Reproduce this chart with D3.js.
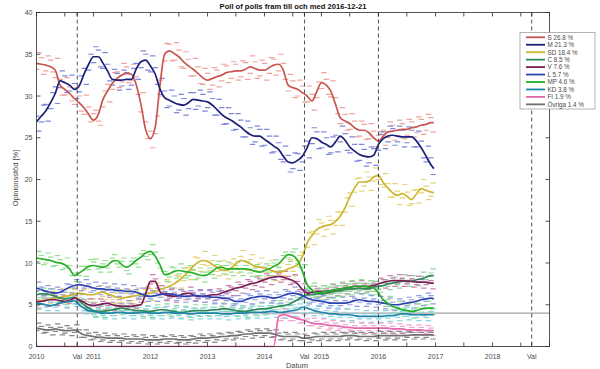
<!DOCTYPE html>
<html><head><meta charset="utf-8">
<script src="https://cdn.jsdelivr.net/npm/d3@7"></script>
<style>body{margin:0;background:#fff}svg{display:block;font-family:"Liberation Sans",Arial,Helvetica,sans-serif}</style>
</head><body><svg id="c" width="600" height="369"></svg>
<script>
const titleText = "Poll of polls fram till och med 2016-12-21";
const parties = ["S","M","SD","C","V","L","MP","KD","FI","Övriga"];
const latest = [26.8,21.3,18.4,8.5,7.6,5.7,4.6,3.8,1.9,1.4];
const lineColors = ["#c8564f","#1b1f78","#cdb52c","#2f8a57","#7a1d55","#2c44b0","#25b025","#1d86ad","#e466ad","#6f6f6f"];
const pollColors = ["#eea49c","#7d87db","#e6d27a","#8fd3a3","#c77fae","#8e9ae4","#8fe08f","#86d6e6","#f5a6d0","#868686"];
const yTicks = [0,5,10,15,20,25,30,35,40];
const yearLabels = [2010,2011,2012,2013,2014,2015,2016,2017,2018];
const valDates = ["2010-09-19","2014-09-14","2018-09-09"];
const dashedDates = ["2010-09-19","2014-09-14","2016-01-01","2018-09-09"];
const threshold = 4;

// monthly trend (1st of each month, Jan 2010 .. Dec 2016)
const trendS = [33.9,33.8,33.7,33.5,33.1,31.3,30.8,30.3,29.7,29.2,28.6,27.8,
27.1,27.8,29.5,30.6,31.5,32.1,32.5,32.7,32.6,31.4,29.0,26.0,
24.9,26.3,31.1,35.0,35.4,35.1,34.7,34.1,33.6,33.2,32.7,32.2,
31.9,32.1,32.3,32.5,32.8,32.9,33.0,33.0,33.2,33.5,33.3,33.1,
33.1,33.4,33.7,33.8,33.1,31.3,31.0,30.8,30.4,30.0,29.4,30.5,
31.6,31.3,30.6,29.0,27.4,27.0,26.7,26.2,25.9,25.9,25.6,25.0,
24.6,25.2,25.7,25.8,25.9,26.0,26.0,26.2,26.3,26.5,26.6,26.8];
const trendM = [26.9,27.6,28.2,29.2,30.3,31.8,31.6,31.3,30.8,31.2,32.6,33.8,
34.7,34.7,34.0,33.0,32.0,31.9,31.9,32.0,32.0,33.2,34.1,34.3,
33.6,32.6,30.9,29.8,29.5,29.2,29.0,28.9,29.2,29.6,29.5,29.4,
29.3,28.9,28.4,27.8,27.4,27.1,26.7,26.3,25.8,25.4,25.2,25.2,
24.8,24.4,24.0,23.6,22.8,22.1,22.0,22.3,22.8,23.8,25.0,24.9,
24.5,24.2,23.9,24.5,25.2,24.7,23.9,23.4,23.0,22.8,22.7,22.9,
24.2,24.9,25.2,25.3,25.2,25.1,25.1,25.1,24.6,23.8,22.8,21.8];
const trendSD = [5.4,5.5,5.6,5.7,5.8,5.9,6.0,6.1,6.3,6.4,6.3,6.2,
6.2,6.4,6.5,6.3,6.1,5.9,5.8,5.9,6.0,6.1,6.2,6.3,
6.4,6.6,6.8,7.0,7.2,7.5,7.9,8.4,9.0,9.6,10.1,10.3,
10.2,9.8,9.5,9.2,9.1,9.4,9.9,10.3,10.2,9.9,9.6,9.5,
9.4,9.2,9.0,8.9,9.0,9.3,9.5,9.8,10.8,12.4,13.3,14.0,
14.3,14.5,14.6,15.0,15.6,16.6,17.9,19.0,19.7,19.7,19.8,20.3,
20.5,19.6,19.0,18.4,18.1,18.3,18.0,17.6,18.3,18.9,18.7,18.5];
const trendC = [6.2,6.3,6.3,6.2,6.0,5.8,5.7,5.8,5.9,5.5,5.0,4.6,
4.3,4.2,4.2,4.3,4.4,4.5,4.6,4.5,4.4,4.3,4.3,4.2,
4.2,4.3,4.4,4.4,4.3,4.2,4.1,4.1,4.2,4.3,4.3,4.3,
4.3,4.4,4.4,4.5,4.5,4.4,4.3,4.2,4.2,4.3,4.4,4.5,
4.5,4.6,4.7,4.8,4.9,5.0,5.3,5.6,6.0,6.2,6.2,6.3,
6.3,6.4,6.5,6.6,6.7,6.8,6.9,6.9,7.0,6.9,6.9,7.1,
7.2,7.3,7.5,7.6,7.7,7.8,7.9,7.8,8.0,8.1,8.3,8.5];
const trendV = [5.3,5.4,5.5,5.6,5.6,5.5,5.4,5.5,5.8,5.6,5.3,5.0,
4.9,5.0,5.1,5.2,5.0,4.9,4.8,4.8,4.8,4.9,5.0,6.3,
7.8,7.8,6.6,6.2,6.1,6.0,6.1,6.3,6.4,6.2,6.0,6.0,
6.1,6.2,6.2,6.4,6.6,6.8,7.0,7.1,7.3,7.5,7.6,7.8,
8.0,8.2,8.3,8.4,8.3,8.1,7.9,7.5,6.8,6.4,6.5,6.6,
6.6,6.6,6.7,6.8,6.9,7.0,7.1,7.2,7.2,7.2,7.2,7.3,
7.5,7.7,7.8,7.9,7.9,7.9,7.8,7.8,7.7,7.7,7.7,7.6];
const trendL = [7.0,6.8,6.6,6.5,6.4,6.5,6.8,7.1,7.3,7.4,7.3,7.2,
7.0,6.9,6.9,6.8,6.8,6.7,6.7,6.6,6.6,6.5,6.3,6.1,
6.0,6.1,6.2,6.3,6.3,6.2,6.1,6.0,6.0,6.1,6.1,6.0,
6.0,5.9,5.9,5.8,5.8,5.6,5.4,5.4,5.6,5.8,5.9,6.0,
6.0,5.9,5.8,5.9,6.1,6.3,6.4,6.3,6.1,5.8,5.6,5.5,
5.4,5.3,5.2,5.2,5.2,5.2,5.3,5.5,5.6,5.5,5.4,5.4,
5.3,5.2,5.1,5.0,5.0,5.1,5.2,5.3,5.4,5.6,5.7,5.8];
const trendMP = [10.6,10.5,10.4,10.3,10.1,10.0,9.8,9.3,8.5,8.8,9.2,9.6,
9.7,9.6,9.5,9.7,10.2,10.3,9.8,9.5,9.8,10.3,10.7,11.2,
11.4,10.8,9.8,8.6,8.7,9.0,9.1,9.0,8.9,8.8,8.6,8.5,
8.6,9.0,9.4,9.5,9.3,9.3,9.3,9.3,9.3,9.2,9.0,8.9,
9.1,9.3,9.6,9.9,10.5,11.0,10.9,10.3,9.0,7.4,6.8,6.4,
6.5,6.6,6.7,6.8,6.9,7.0,7.1,7.2,7.2,7.2,7.1,7.0,
6.4,5.6,5.2,4.8,4.6,4.4,4.3,4.2,4.3,4.5,4.6,4.6];
const trendKD = [5.2,5.1,5.0,4.9,5.0,5.2,5.3,5.4,5.5,5.0,4.6,4.3,
4.2,4.1,4.0,4.0,4.0,4.1,4.1,4.0,4.0,4.0,4.1,4.1,
4.0,4.0,4.0,4.1,4.1,4.0,4.0,4.0,3.9,3.9,4.0,4.0,
4.0,4.0,4.0,3.9,3.9,3.9,4.0,4.0,4.0,4.1,4.1,4.1,
4.1,4.2,4.2,4.1,4.1,4.2,4.3,4.4,4.7,4.6,4.4,4.2,
4.1,4.0,3.9,3.9,3.8,3.8,3.8,3.7,3.6,3.6,3.6,3.6,
3.6,3.6,3.7,3.7,3.8,3.9,3.9,3.8,3.8,3.8,3.8,3.8];
const trendFI = [0,0,0,0,0,0,0,0,0,0,0,0,
0,0,0,0,0,0,0,0,0,0,0,0,
0,0,0,0,0,0,0,0,0,0,0,0,
0,0,0,0,0,0,0,0,0,0,0,0,
0,0,0,3.6,3.8,3.7,3.5,3.3,3.2,3.0,2.8,2.7,
2.7,2.6,2.5,2.5,2.4,2.3,2.3,2.2,2.2,2.2,2.2,2.2,
2.2,2.2,2.2,2.1,2.1,2.1,2.0,2.0,2.0,2.0,1.9,1.9];
const trendOv = [2.2,2.1,2.0,2.0,2.1,2.0,1.9,1.9,2.0,1.7,1.4,1.3,
1.2,1.1,1.1,1.0,1.0,1.0,1.0,0.9,0.9,0.9,0.9,0.8,
0.8,0.8,0.8,0.9,0.9,0.9,0.8,0.8,0.8,0.9,1.0,1.0,
1.0,1.1,1.1,1.2,1.2,1.3,1.3,1.4,1.5,1.5,1.6,1.6,
1.6,1.6,1.5,1.3,1.2,1.2,1.2,1.2,1.0,1.0,1.1,1.2,
1.2,1.2,1.2,1.2,1.2,1.3,1.3,1.3,1.2,1.2,1.2,1.2,
1.3,1.3,1.3,1.3,1.3,1.3,1.3,1.4,1.4,1.4,1.4,1.4];

// individual polls, set A (mid-month, Jan 2010 .. Dec 2016)
const pollsS = [35.2,32.6,34.8,32.9,34.5,30.1,32.2,29.4,31.0,28.2,30.1,26.9,
28.3,26.5,30.6,29.3,32.8,31.0,33.9,31.6,33.8,30.2,30.4,24.9,
23.8,27.6,30.0,36.3,34.2,36.4,33.5,35.3,32.4,34.5,31.5,33.3,
30.8,33.4,31.1,33.8,31.6,34.1,31.9,34.2,32.0,34.8,32.1,34.3,
31.9,34.6,32.5,35.0,32.0,32.6,29.8,31.9,29.3,31.2,28.3,31.7,
32.8,30.2,31.8,27.9,28.6,25.9,27.9,25.1,27.0,24.8,26.7,23.9,
25.7,24.1,26.9,24.7,27.1,24.9,27.2,25.1,27.5,25.4,27.8,25.7];
const pollsM = [25.8,28.9,27.0,30.4,29.1,33.0,30.4,32.5,29.7,32.4,31.4,35.0,
35.9,33.5,35.2,31.8,33.2,30.7,33.1,30.8,33.3,32.0,35.4,33.1,
34.8,31.4,32.1,28.6,30.7,28.0,30.2,27.7,30.4,28.4,30.7,28.2,
30.5,27.7,29.6,26.6,28.6,25.9,27.9,25.1,27.0,24.2,26.4,24.0,
26.0,23.2,25.2,22.4,24.0,20.9,23.2,21.1,24.0,22.6,26.2,23.7,
25.7,23.0,25.1,23.3,26.4,23.5,25.1,22.2,24.2,21.6,23.9,21.7,
25.4,23.7,26.4,24.1,26.4,23.9,26.3,23.9,25.8,22.6,24.0,20.6];
const pollsSD = [4.4,6.3,4.8,6.6,5.0,6.9,5.1,7.0,5.5,7.4,5.4,7.0,
5.3,7.3,5.6,7.2,5.2,6.8,4.9,6.8,5.1,7.0,5.3,7.2,
5.5,7.6,5.9,8.0,6.3,8.5,7.0,9.4,8.0,10.7,9.0,11.4,
9.1,10.9,8.5,10.3,8.1,10.5,8.8,11.5,9.1,11.0,8.5,10.6,
8.3,10.3,7.9,10.0,8.0,10.4,8.5,10.9,9.8,13.6,12.2,15.2,
13.2,15.6,13.5,16.1,14.5,17.8,16.8,20.1,18.6,20.9,18.7,21.4,
19.4,20.7,17.9,19.5,17.0,19.4,16.9,18.7,17.2,20.0,17.6,19.6];
const pollsC = [5.5,7.0,5.6,6.9,5.3,6.5,5.0,6.5,5.2,6.2,4.3,5.3,
3.6,4.9,3.5,5.0,3.7,5.2,3.9,5.2,3.7,5.0,3.6,4.9,
3.5,5.0,3.7,5.1,3.6,4.9,3.4,4.8,3.5,5.0,3.6,5.0,
3.6,5.1,3.7,5.2,3.8,5.1,3.6,4.9,3.5,5.0,3.7,5.2,
3.8,5.3,4.0,5.5,4.2,5.7,4.6,6.3,5.3,6.9,5.5,7.0,
5.6,7.1,5.8,7.3,6.0,7.5,6.2,7.6,6.3,7.6,6.2,7.8,
6.5,8.0,6.8,8.3,7.0,8.6,7.2,8.5,7.3,8.9,7.6,9.3];
const pollsV = [4.6,6.1,4.8,6.3,4.9,6.2,4.7,6.2,5.1,6.3,4.6,5.7,
4.2,5.7,4.4,5.9,4.3,5.6,4.1,5.5,4.1,5.6,4.3,7.0,
8.6,7.0,7.3,5.5,6.8,5.3,6.8,5.6,7.1,5.5,6.7,5.3,
6.8,5.5,6.9,5.7,7.3,6.1,7.7,6.4,8.0,6.8,8.3,7.1,
8.7,7.4,9.0,7.7,9.0,7.4,8.6,6.8,7.5,5.7,7.2,5.9,
7.3,5.9,7.4,6.1,7.6,6.3,7.8,6.5,7.9,6.5,7.9,6.6,
8.2,7.0,8.5,7.2,8.6,7.2,8.5,7.1,8.4,7.0,8.4,6.9];
const pollsL = [7.7,6.1,7.3,5.8,7.1,5.8,7.5,6.4,8.0,6.7,8.0,6.5,
7.7,6.2,7.6,6.1,7.5,6.0,7.4,5.9,7.3,5.8,7.0,5.4,
6.7,5.4,6.9,5.6,7.0,5.5,6.8,5.3,6.7,5.4,6.8,5.3,
6.7,5.2,6.6,5.1,6.5,4.9,6.1,4.7,6.3,5.1,6.6,5.3,
6.7,5.2,6.5,5.2,6.8,5.6,7.1,5.6,6.8,5.1,6.3,4.8,
6.1,4.6,5.9,4.5,5.9,4.5,6.0,4.8,6.3,4.8,6.1,4.7,
6.0,4.5,5.8,4.3,5.7,4.4,5.9,4.6,6.1,4.9,6.4,5.1];
const pollsMP = [11.4,9.8,11.2,9.6,10.9,9.2,10.6,8.5,7.8,9.6,8.4,10.4,
10.5,8.9,10.3,8.9,11.0,9.5,10.6,8.7,10.6,9.5,11.5,10.4,
12.2,10.0,10.6,7.8,9.5,8.2,9.9,8.2,9.7,8.0,9.4,7.7,
9.4,8.2,10.2,8.7,10.1,8.5,10.1,8.5,10.1,8.4,9.8,8.1,
9.9,8.5,10.4,9.1,11.3,10.2,11.7,9.5,9.8,6.6,7.6,5.6,
7.3,5.8,7.5,6.0,7.7,6.2,7.9,6.4,8.0,6.4,7.9,6.2,
7.2,4.8,6.0,4.0,5.4,3.6,5.1,3.4,5.1,3.7,5.4,3.8];
const pollsKD = [4.5,5.8,4.3,5.6,4.3,5.9,4.6,6.1,4.8,5.7,3.9,5.0,
3.5,4.8,3.3,4.7,3.3,4.8,3.4,4.7,3.3,4.7,3.4,4.8,
3.3,4.7,3.3,4.8,3.4,4.7,3.3,4.7,3.2,4.6,3.3,4.7,
3.3,4.7,3.3,4.6,3.2,4.6,3.3,4.7,3.3,4.8,3.4,4.8,
3.4,4.9,3.5,4.8,3.4,4.9,3.6,5.1,4.0,5.3,3.7,4.9,
3.4,4.7,3.2,4.6,3.1,4.5,3.1,4.4,2.9,4.3,2.9,4.3,
2.9,4.3,3.0,4.4,3.1,4.6,3.2,4.5,3.1,4.5,3.1,4.5];
const pollsFI = [null,null,null,null,null,null,null,null,null,null,null,null,
null,null,null,null,null,null,null,null,null,null,null,null,
null,null,null,null,null,null,null,null,null,null,null,null,
null,null,null,null,null,null,null,null,null,null,null,null,
null,null,null,3.1,4.4,3.1,4.1,2.8,3.8,2.5,3.4,2.2,
3.3,2.0,3.1,1.9,3.0,1.7,2.9,1.6,2.8,1.6,2.8,1.6,
2.8,1.6,2.8,1.5,2.7,1.5,2.6,1.4,2.6,1.4,2.5,1.3];
const pollsOv = [2.8,1.6,2.6,1.4,2.7,1.4,2.5,1.3,2.6,1.1,2.0,0.8,
1.7,0.6,1.6,0.5,1.5,0.5,1.5,0.4,1.4,0.4,1.4,0.3,
1.3,0.3,1.3,0.4,1.4,0.4,1.3,0.3,1.3,0.4,1.5,0.5,
1.5,0.5,1.6,0.7,1.7,0.8,1.8,0.9,2.0,1.0,2.1,1.1,
2.1,1.1,2.0,0.8,1.7,0.7,1.7,0.7,1.5,0.5,1.6,0.7,
1.7,0.7,1.7,0.7,1.7,0.8,1.8,0.8,1.7,0.7,1.7,0.7,
1.8,0.8,1.8,0.8,1.8,0.8,1.8,0.9,1.9,0.9,1.9,0.9];

// individual polls, set B (first days of month)
const polls2S = [33.2,34.6,33.0,34.3,32.2,32.0,30.1,31.1,29.0,30.0,27.8,28.7,
27.9,27.0,28.7,31.4,30.8,32.9,31.7,33.5,31.9,32.3,28.1,26.9,
25.8,25.5,31.9,34.2,36.2,34.3,35.5,33.3,34.4,32.4,33.5,31.4,
32.7,31.3,33.1,31.8,33.6,32.1,33.8,32.3,34.0,32.7,34.1,32.4,
33.9,32.7,34.4,33.0,33.9,30.6,31.8,30.0,31.2,29.3,30.2,29.8,
30.9,32.0,29.9,29.8,26.7,27.8,26.0,27.0,25.2,26.6,24.9,25.8,
25.3,25.9,25.0,26.5,25.2,26.7,25.3,26.9,25.6,27.2,25.9,27.4];
const polls2M = [27.6,26.9,29.0,28.5,31.1,31.0,32.4,30.6,31.5,30.5,33.3,33.1,
34.0,35.5,33.3,33.8,31.3,32.7,31.2,32.8,31.3,33.9,33.4,35.0,
32.9,33.4,30.2,30.6,28.8,30.0,28.3,29.7,28.5,30.4,28.8,30.2,
28.6,29.7,27.7,28.6,26.7,27.9,26.0,27.1,25.1,26.2,24.5,26.0,
24.1,25.2,23.3,24.4,22.1,22.9,21.3,23.1,22.1,24.6,24.3,25.7,
23.8,25.0,23.2,25.3,24.5,25.5,23.2,24.2,22.3,23.6,22.0,23.7,
23.5,25.7,24.5,26.1,24.5,25.9,24.4,25.9,23.9,24.6,22.1,22.6];
const polls2SD = [5.9,5.0,6.1,5.2,6.3,5.4,6.5,5.6,6.8,5.9,6.8,5.7,
5.7,6.9,6.0,6.8,5.6,6.4,5.3,6.4,5.5,6.6,5.7,6.8,
6.9,6.1,7.3,6.5,7.7,7.0,8.4,7.9,9.5,9.1,10.6,9.8,
9.7,10.3,9.0,9.7,8.6,9.9,9.4,10.8,9.7,10.4,9.1,10.0,
8.9,9.7,8.5,9.4,8.5,9.8,9.0,10.3,11.3,11.9,13.8,13.5,
14.8,14.0,15.1,14.5,16.1,16.1,18.4,18.5,20.2,19.2,20.3,19.8,
20.0,19.1,19.5,17.9,18.6,17.8,18.5,17.1,18.8,18.4,19.2,18.0];
const polls2C = [6.6,5.9,6.7,5.8,6.4,5.4,6.1,5.4,6.3,5.1,5.4,4.2,
4.0,4.5,3.9,4.6,4.1,4.8,4.3,4.9,4.1,4.6,4.0,4.5,
3.9,4.6,4.1,4.7,4.0,4.5,3.8,4.4,3.9,4.6,4.0,4.6,
4.0,4.7,4.1,4.8,4.2,4.7,4.0,4.5,3.9,4.6,4.1,4.8,
4.2,4.9,4.4,5.1,4.6,5.3,5.0,5.9,5.7,6.5,5.9,6.6,
6.0,6.7,6.2,6.9,6.4,7.1,6.6,7.2,6.7,7.2,6.6,7.4,
6.9,7.6,7.2,7.9,7.4,8.1,7.6,8.1,7.7,8.4,8.0,8.8];
const polls2V = [5.6,5.1,5.8,5.3,5.9,5.2,5.7,5.2,6.1,5.3,5.6,4.7,
5.2,4.7,5.4,4.9,5.3,4.6,5.1,4.5,5.1,4.6,5.3,6.0,
7.5,8.1,6.3,6.5,5.8,6.3,5.8,6.6,6.1,6.5,5.7,6.3,
5.8,6.5,5.9,6.7,6.3,7.1,6.7,7.4,7.0,7.8,7.3,8.1,
7.7,8.5,8.0,8.7,8.0,8.4,7.6,7.8,6.5,6.7,6.2,6.9,
6.3,6.9,6.4,7.1,6.6,7.3,6.8,7.5,6.9,7.5,6.9,7.6,
7.2,8.0,7.5,8.2,7.6,8.2,7.5,8.1,7.4,8.0,7.4,7.9];
const polls2L = [6.7,7.1,6.3,6.9,6.1,6.8,6.5,7.4,7.0,7.7,7.0,7.5,
6.7,7.2,6.6,7.1,6.5,7.0,6.4,6.9,6.3,6.8,6.0,6.4,
5.7,6.4,5.9,6.6,6.0,6.5,5.8,6.3,5.7,6.4,5.8,6.3,
5.7,6.2,5.6,6.1,5.5,5.9,5.1,5.7,5.3,6.1,5.6,6.3,
5.7,6.2,5.5,6.2,5.8,6.6,6.1,6.6,5.8,6.1,5.3,5.8,
5.1,5.6,4.9,5.5,4.9,5.5,5.0,5.8,5.3,5.8,5.1,5.7,
5.0,5.5,4.8,5.3,4.7,5.4,4.9,5.6,5.1,5.9,5.4,6.1];
const polls2MP = [10.2,10.9,10.0,10.7,9.7,10.4,9.4,9.7,8.8,8.5,9.6,9.2,
10.1,9.3,9.9,9.4,10.6,9.9,10.2,9.1,10.2,9.9,11.1,10.8,
11.0,11.3,9.4,9.0,8.3,9.4,8.7,9.4,8.5,9.2,8.2,8.9,
8.9,8.6,9.8,9.1,9.7,8.9,9.7,8.9,9.7,8.8,9.4,8.5,
9.5,8.9,10.0,9.5,10.9,10.6,11.3,9.9,9.4,7.0,7.2,6.0,
6.9,6.2,7.1,6.4,7.3,6.6,7.5,6.8,7.6,6.8,7.5,6.6,
6.8,5.2,5.6,4.4,5.0,4.0,4.7,3.8,4.7,4.1,5.0,4.2];
const polls2KD = [4.9,5.4,4.7,5.3,4.7,5.5,5.0,5.7,5.1,5.3,4.3,4.6,
3.8,4.4,3.7,4.3,3.7,4.4,3.8,4.3,3.7,4.3,3.8,4.4,
3.7,4.3,3.7,4.4,3.8,4.3,3.7,4.3,3.6,4.2,3.7,4.3,
3.7,4.3,3.7,4.2,3.6,4.2,3.7,4.3,3.7,4.4,3.8,4.4,
3.8,4.5,3.9,4.4,3.8,4.5,4.0,4.7,4.4,4.9,4.1,4.5,
3.8,4.3,3.6,4.2,3.5,4.1,3.5,4.0,3.3,3.9,3.3,3.9,
3.3,3.9,3.4,4.0,3.5,4.2,3.6,4.1,3.5,4.1,3.5,4.1];
const polls2FI = [null,null,null,null,null,null,null,null,null,null,null,null,
null,null,null,null,null,null,null,null,null,null,null,null,
null,null,null,null,null,null,null,null,null,null,null,null,
null,null,null,null,null,null,null,null,null,null,null,null,
null,null,null,3.9,3.4,4.0,3.1,3.5,2.9,3.3,2.5,3.0,
2.4,2.9,2.2,2.8,2.1,2.6,2.0,2.5,1.9,2.5,1.9,2.5,
1.9,2.5,1.9,2.4,1.8,2.4,1.7,2.3,1.7,2.3,1.6,2.2];
const polls2Ov = [1.9,2.4,1.7,2.3,1.8,2.3,1.6,2.2,1.7,2.0,1.1,1.6,
0.9,1.4,0.8,1.3,0.7,1.3,0.7,1.2,0.6,1.2,0.6,1.1,
0.5,1.1,0.5,1.2,0.6,1.2,0.5,1.1,0.5,1.2,0.7,1.3,
0.7,1.3,0.8,1.5,0.9,1.6,1.0,1.7,1.2,1.8,1.3,1.9,
1.3,1.9,1.2,1.6,0.9,1.5,0.9,1.5,0.7,1.3,0.8,1.5,
0.9,1.5,0.9,1.5,0.9,1.6,1.0,1.6,0.9,1.5,0.9,1.5,
1.0,1.6,1.0,1.6,1.0,1.6,1.1,1.7,1.1,1.7,1.1,1.7];

const trends = [trendS,trendM,trendSD,trendC,trendV,trendL,trendMP,trendKD,trendFI,trendOv];
const pollsA = [pollsS,pollsM,pollsSD,pollsC,pollsV,pollsL,pollsMP,pollsKD,pollsFI,pollsOv];
const pollsB = [polls2S,polls2M,polls2SD,polls2C,polls2V,polls2L,polls2MP,polls2KD,polls2FI,polls2Ov];

const svg = d3.select("#c");
const x = d3.scaleTime().domain([new Date(2010,0,1), new Date(2019,0,1)]).range([36.5, 549.5]);
const y = d3.scaleLinear().domain([0,40]).range([346.5, 12.5]);
const parse = d3.timeParse("%Y-%m-%d");
const textCol = "#4a4a4a";

svg.append("defs").append("clipPath").attr("id","clip")
  .append("rect").attr("x",x.range()[0]).attr("y",y(40)).attr("width",x.range()[1]-x.range()[0]).attr("height",y(0)-y(40)+1);
const plot = svg.append("g").attr("clip-path","url(#clip)");

// threshold line
plot.append("line").attr("x1",x.range()[0]).attr("x2",x.range()[1])
  .attr("y1",y(threshold)).attr("y2",y(threshold)).attr("stroke","#8a8a8a").attr("stroke-width",1);

// polls
parties.forEach((p,i)=>{
  const pts = pollsA[i].map((v,t)=>({d:new Date(2010,t,16), v}))
    .concat(pollsB[i].map((v,t)=>({d:new Date(2010,t,2), v})))
    .filter(o=>o.v!==null);
  plot.append("g").selectAll("line").data(pts).join("line")
    .attr("x1",o=>x(o.d)-2.7).attr("x2",o=>x(o.d)+2.7)
    .attr("y1",o=>y(o.v)).attr("y2",o=>y(o.v))
    .attr("stroke",pollColors[i]).attr("stroke-width",1.2);
});

// trend lines
const line = d3.line().x(o=>x(o.d)).y(o=>y(o.v)).curve(d3.curveMonotoneX);
parties.forEach((p,i)=>{
  const pts = trends[i].map((v,t)=>({d:new Date(2010,t,1), v}));
  pts.push({d:new Date(2016,11,21), v:latest[i]});
  plot.append("path").datum(pts).attr("d",line).attr("fill","none")
    .attr("stroke",lineColors[i]).attr("stroke-width",1.7).attr("stroke-linejoin","round");
});

// dashed vertical lines
svg.append("g").selectAll("line").data(dashedDates).join("line")
  .attr("x1",d=>x(parse(d))).attr("x2",d=>x(parse(d)))
  .attr("y1",y(40)).attr("y2",y(0))
  .attr("stroke","#3c3c3c").attr("stroke-width",0.9).attr("stroke-dasharray","4,3");

// axes box
const ax = svg.append("g");
ax.append("rect").attr("x",x.range()[0]).attr("y",y(40)).attr("width",x.range()[1]-x.range()[0]).attr("height",y(0)-y(40))
  .attr("fill","none").attr("stroke","#2b2b2b").attr("stroke-width",0.8);

// x ticks (half-years + election days), inside, bottom and top
const halfYears = d3.timeMonth.every(6).range(new Date(2010,0,1), new Date(2019,0,2));
const tickDates = halfYears.concat(valDates.map(parse));
tickDates.forEach(d=>{
  const xx = x(d);
  ax.append("line").attr("x1",xx).attr("x2",xx).attr("y1",y(0)).attr("y2",y(0)-4).attr("stroke","#2b2b2b").attr("stroke-width",0.8);
  ax.append("line").attr("x1",xx).attr("x2",xx).attr("y1",y(40)).attr("y2",y(40)+4).attr("stroke","#2b2b2b").attr("stroke-width",0.8);
});
// y ticks
yTicks.forEach(v=>{
  ax.append("line").attr("x1",x.range()[0]).attr("x2",x.range()[0]+4).attr("y1",y(v)).attr("y2",y(v)).attr("stroke","#2b2b2b").attr("stroke-width",0.8);
  ax.append("line").attr("x1",x.range()[1]).attr("x2",x.range()[1]-4).attr("y1",y(v)).attr("y2",y(v)).attr("stroke","#2b2b2b").attr("stroke-width",0.8);
  ax.append("text").attr("x",x.range()[0]-4).attr("y",y(v)+2.5).attr("text-anchor","end")
    .attr("font-size",7).attr("fill",textCol).text(v);
});
// x labels
yearLabels.forEach(yr=>{
  ax.append("text").attr("x",x(new Date(yr,0,1))).attr("y",359).attr("text-anchor","middle")
    .attr("font-size",7).attr("fill",textCol).text(yr);
});
valDates.forEach(d=>{
  ax.append("text").attr("x",x(parse(d))).attr("y",359).attr("text-anchor","middle")
    .attr("font-size",7).attr("fill",textCol).text("Val");
});

// axis titles
svg.append("text").attr("x",297).attr("y",367.5).attr("text-anchor","middle").attr("font-size",7.5).attr("fill",textCol).text("Datum");
svg.append("text").attr("transform","translate(18,178) rotate(-90)").attr("text-anchor","middle").attr("font-size",7.5).attr("fill",textCol).text("Opinionsstöd [%]");
svg.append("text").attr("x",293).attr("y",9).attr("text-anchor","middle").attr("font-size",7.6).attr("font-weight","bold").attr("fill","#111").text(titleText);

// legend
const lg = svg.append("g");
lg.append("rect").attr("x",520).attr("y",32.5).attr("width",75).attr("height",76.5)
  .attr("fill","#fff").attr("stroke","#a0a0a0").attr("stroke-width",0.8);
parties.forEach((p,i)=>{
  const yy = 37.3 + i*7.45;
  lg.append("line").attr("x1",526).attr("x2",545).attr("y1",yy).attr("y2",yy)
    .attr("stroke",lineColors[i]).attr("stroke-width",1.8);
  lg.append("text").attr("x",547.5).attr("y",yy+2.3).attr("font-size",6.3).attr("fill",textCol)
    .text(`${p} ${latest[i]} %`);
});
</script></body></html>
